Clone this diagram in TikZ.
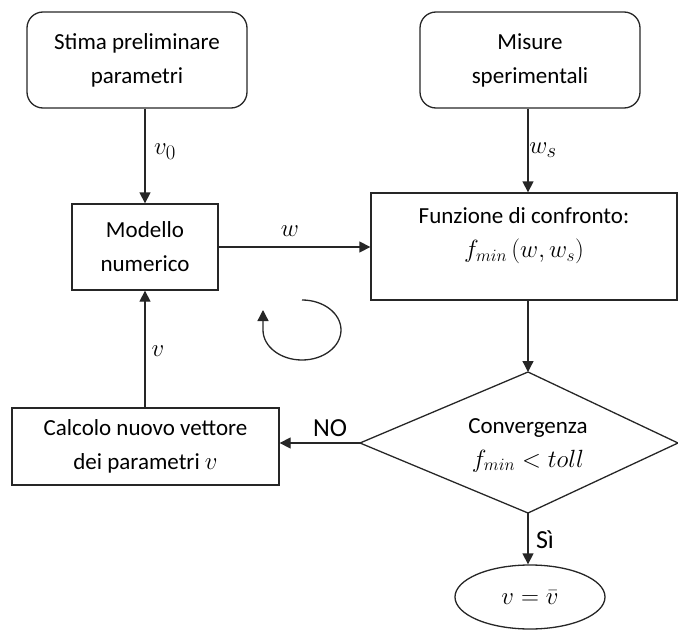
\documentclass[tikz,border=0pt]{standalone}
\usepackage{fontspec}
\setmainfont{Carlito}
\usetikzlibrary{arrows.meta,shapes.geometric}
\tikzset{
  txt/.style={font=\fontsize{23}{34}\selectfont, align=center, inner sep=0pt},
  rbox/.style={draw=black!85, line width=1.3pt, rounded corners=16pt, minimum width=220pt, minimum height=96pt, inner sep=0pt},
  sbox/.style={draw=black!85, line width=1.3pt, inner sep=0pt},
  arr/.style={draw=black!85, line width=1.3pt, -{Triangle[length=11pt,width=11pt]}},
  lbl/.style={font=\fontsize{26}{30}\selectfont, inner sep=0pt},
  mlbl/.style={font=\fontsize{28}{30}\selectfont, inner sep=0pt}
}
\begin{document}
\begin{tikzpicture}[x=1pt,y=-1pt]
\useasboundingbox (0,0) rectangle (678,634);
% boxes
\node[rbox, txt] (stima) at (137,60) {Stima preliminare\\parametri};
\node[rbox, txt] (misure) at (530,60) {Misure\\sperimentali};
\node[sbox, txt, minimum width=146pt, minimum height=86pt] (modello) at (145,247) {Modello\\numerico};
\node[sbox, minimum width=306pt, minimum height=107pt] (funz) at (524,246.5) {};
\node[txt] (funztxt) at (524,236) {Funzione di confronto:\\$f_{min}\,(w,w_s)$};
\node[sbox, txt, minimum width=267pt, minimum height=77pt] (calc) at (145.5,446.5) {Calcolo nuovo vettore\\dei parametri $v$};
% diamond
\coordinate (dt) at (528,372);
\coordinate (dl) at (360,443);
\coordinate (dr) at (678,443);
\coordinate (db) at (528,513);
\draw[black!85, line width=1.3pt] (dt) -- (dr) -- (db) -- (dl) -- cycle;
\node[txt] (conv) at (528,445) {Convergenza\\$f_{min}<toll$};
% ellipse
\node[draw=black!85, line width=1.3pt, ellipse, minimum width=150pt, minimum height=64pt, inner sep=0pt] (fin) at (530,597) {};
\node[txt] (fintxt) at (530,598) {$v=\bar{v}$};
% connectors
\draw[arr] (stima.south -| modello.north) -- (modello.north);
\draw[arr] (misure.south -| dt) -- (funz.north -| dt);
\draw[arr] (modello.east) -- (modello.east -| funz.west);
\draw[arr] (funz.south -| dt) -- (dt);
\draw[arr] (dl) -- (dl -| calc.east);
\draw[arr] (calc.north -| modello.south) -- (modello.south);
\draw[arr] (db) -- (fin.north -| db);
% circular arrow
\coordinate (cstart) at (302,300);
\draw[arr] (cstart) arc[start angle=90, end angle=-180, x radius=39pt, y radius=30pt] -- ++(0,-20);
% labels
\node[mlbl] (lv0) at (165,152) {$v_0$};
\node[mlbl] (lws) at (543,150) {$w_s$};
\node[mlbl] (lw) at (290,231) {$w$};
\node[mlbl] (lv) at (158,351) {$v$};
\node[lbl] (lno) at (330,428) {NO};
\node[lbl] (lsi) at (545,540) {Sì};
\end{tikzpicture}
\end{document}
